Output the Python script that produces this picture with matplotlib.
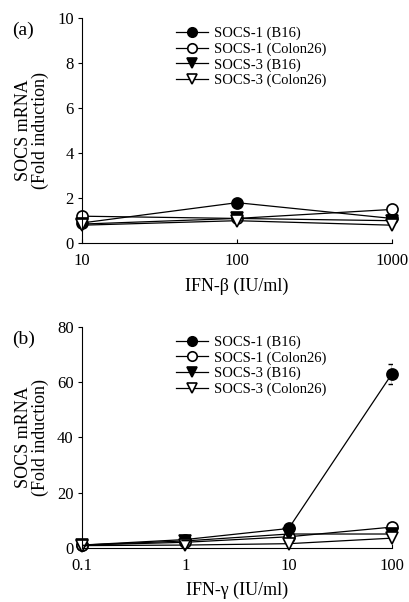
import matplotlib.pyplot as plt

plt.rcParams['font.family'] = ['Liberation Serif', 'DejaVu Serif']

# panel (a) IFN-beta
dose_b = [10, 100, 1000]
s1_b16_a = [0.9, 1.8, 1.1]
s1_c26_a = [1.2, 1.1, 1.5]
s3_b16_a = [0.85, 1.1, 1.0]
s3_c26_a = [0.8, 1.0, 0.8]

# panel (b) IFN-gamma
dose_g = [0.1, 1, 10, 100]
s1_b16_b = [1.0, 3.0, 7.0, 63.0]
s1_b16_b_err = [0, 0, 0, 3.5]
s1_c26_b = [1.0, 2.0, 4.0, 7.5]
s3_b16_b = [1.0, 2.5, 5.0, 5.0]
s3_c26_b = [0.8, 1.0, 1.5, 3.5]

labels = ['SOCS-1 (B16)', 'SOCS-1 (Colon26)', 'SOCS-3 (B16)', 'SOCS-3 (Colon26)']
markers = ['o', 'o', 'v', 'v']
faces = ['black', 'white', 'black', 'white']

fig = plt.figure(figsize=(4.1, 6.02), dpi=100)
ax1 = fig.add_axes([0.2, 0.596, 0.756, 0.374])
ax2 = fig.add_axes([0.2, 0.090, 0.756, 0.367])


def style(ax):
    ax.set_xscale('log')
    ax.spines['top'].set_visible(False)
    ax.spines['right'].set_visible(False)
    ax.minorticks_off()
    ax.tick_params(axis='x', direction='in', labelsize=12, length=3, pad=7)
    ax.tick_params(axis='y', direction='out', labelsize=12, length=3, pad=3)
    ax.set_ylabel('SOCS mRNA\n(Fold induction)', fontsize=13, linespacing=0.95, labelpad=6)


series_a = [s1_b16_a, s1_c26_a, s3_b16_a, s3_c26_a]
for ys, lab, m, fc in zip(series_a, labels, markers, faces):
    ax1.plot(dose_b, ys, color='black', lw=0.9, marker=m, mfc=fc, mec='black',
             ms=8, mew=1.2, label=lab, clip_on=False)
style(ax1)
ax1.set_xlim(10, 1000)
ax1.set_ylim(0, 10)
ax1.set_yticks([0, 2, 4, 6, 8, 10])
ax1.set_xticks(dose_b)
ax1.set_xticklabels(['10', '100', '1000'])
ax1.set_xlabel('IFN-β (IU/ml)', fontsize=13, labelpad=6)
ax1.legend(loc='upper left', bbox_to_anchor=(0.26, 1.02), frameon=False, fontsize=10.5,
           handlelength=2.2, handletextpad=0.4, labelspacing=0.15, markerscale=0.85)
ax1.text(-0.225, 0.985, '(a)', transform=ax1.transAxes, fontsize=14, va='top')

series_b = [s1_b16_b, s1_c26_b, s3_b16_b, s3_c26_b]
for ys, lab, m, fc in zip(series_b, labels, markers, faces):
    ax2.plot(dose_g, ys, color='black', lw=0.9, marker=m, mfc=fc, mec='black',
             ms=8, mew=1.2, label=lab, clip_on=False)
ax2.errorbar(dose_g, s1_b16_b, yerr=s1_b16_b_err, fmt='none', ecolor='black',
             elinewidth=1, capsize=3)
style(ax2)
ax2.set_xlim(0.1, 100)
ax2.set_ylim(0, 80)
ax2.set_yticks([0, 20, 40, 60, 80])
ax2.set_xticks(dose_g)
ax2.set_xticklabels(['0.1', '1', '10', '100'])
ax2.set_xlabel('IFN-γ (IU/ml)', fontsize=13, labelpad=6)
ax2.legend(loc='upper left', bbox_to_anchor=(0.26, 1.02), frameon=False, fontsize=10.5,
           handlelength=2.2, handletextpad=0.4, labelspacing=0.15, markerscale=0.85)
ax2.text(-0.225, 0.985, '(b)', transform=ax2.transAxes, fontsize=14, va='top')

fig.savefig('out.png', dpi=100)
